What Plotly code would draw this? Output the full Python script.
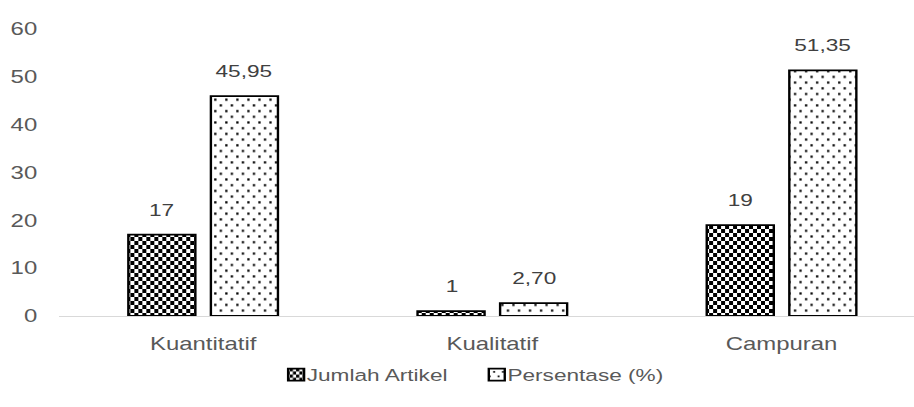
import plotly.graph_objects as go

# Categories and values
categories = ["Kuantitatif", "Kualitatif", "Campuran"]
jumlah_artikel = [17, 1, 19]
persentase = [45.95, 2.70, 51.35]
series_names = ["Jumlah Artikel", "Persentase (%)"]
y_ticks = [0, 10, 20, 30, 40, 50, 60]


def fmt_id(v, decimals):
    """Indonesian number format: comma as decimal separator."""
    return f"{v:.{decimals}f}".replace(".", ",")


# The chart is laid out at a narrower base width and widened on the page
PAGE_W, H = 914, 407
W = 687
STRETCH = PAGE_W / W

M_L, M_R, M_T, M_B = 44, 0, 29, 91
X_RANGE = [-0.5, 2.458]
BARGAP = 0.429
GROUPGAP = 0.188

FONT = "Liberation Sans, Arial, sans-serif"
TICK_COLOR = "#595959"
LABEL_COLOR = "#404040"

fig = go.Figure()

fig.add_trace(go.Bar(
    x=categories, y=jumlah_artikel, name=series_names[0], uid="jumlah",
    marker=dict(color="white", line=dict(color="black", width=1.8),
                pattern=dict(shape="x", size=6, solidity=0.5,
                             fgcolor="black", bgcolor="white")),
))
fig.add_trace(go.Bar(
    x=categories, y=persentase, name=series_names[1], uid="persen",
    marker=dict(color="white", line=dict(color="black", width=1.8),
                pattern=dict(shape=".", size=8, solidity=0.08,
                             fgcolor="black", bgcolor="white")),
))

# Value labels above each bar, offset to the centre of each grouped bar
px_per_cat = (W - M_L - M_R) / (X_RANGE[1] - X_RANGE[0])
slot = px_per_cat * (1 - BARGAP) / 2
annotations = []
for i, cat in enumerate(categories):
    for vals, dec, sign in ((jumlah_artikel, 0, -1), (persentase, 2, 1)):
        annotations.append(dict(
            x=cat, y=vals[i], xref="x", yref="y",
            text=fmt_id(vals[i], dec), showarrow=False,
            xanchor="center", yanchor="bottom",
            xshift=sign * slot / 2, yshift=13,
            font=dict(family=FONT, size=17, color=LABEL_COLOR),
        ))

fig.update_layout(
    width=W, height=H,
    margin=dict(l=M_L, r=M_R, t=M_T, b=M_B),
    paper_bgcolor="white", plot_bgcolor="white",
    barmode="group", bargap=BARGAP, bargroupgap=GROUPGAP,
    font=dict(family=FONT, size=18, color=TICK_COLOR),
    showlegend=True,
    legend=dict(orientation="h", x=0.49, xanchor="center",
                y=-0.2056, yanchor="middle",
                font=dict(family=FONT, size=17, color=TICK_COLOR),
                itemwidth=30, traceorder="normal"),
    annotations=annotations,
    xaxis=dict(type="category", range=X_RANGE, showgrid=False,
               showline=True, linecolor="#d9d9d9", linewidth=1,
               ticks="", ticklabelstandoff=11, zeroline=False,
               tickfont=dict(family=FONT, size=18, color=TICK_COLOR)),
    yaxis=dict(range=[0, 60], tickvals=y_ticks, showgrid=False,
               zeroline=False, showline=False, ticks="",
               ticklabelstandoff=15,
               tickfont=dict(family=FONT, size=18, color=TICK_COLOR)),
)

# Checkerboard and staggered-dot fills, legend text pulled next to its
# swatch, then the chart widened to page width
post = """
var gd = document.getElementById('{plot_id}');
var NS = 'http://www.w3.org/2000/svg';
function mk(tag, attrs) {
  var el = document.createElementNS(NS, tag);
  for (var k in attrs) el.setAttribute(k, attrs[k]);
  return el;
}
function retile(key, w, h, cells) {
  document.querySelectorAll('pattern').forEach(function (p) {
    if (p.id.indexOf(key) === -1) return;
    while (p.firstChild) p.removeChild(p.firstChild);
    p.setAttribute('width', w);
    p.setAttribute('height', h);
    p.appendChild(mk('rect', {x: 0, y: 0, width: w, height: h, fill: 'white'}));
    cells.forEach(function (c) {
      p.appendChild(mk('rect', {x: c[0], y: c[1], width: c[2], height: c[3], fill: 'black'}));
    });
  });
}
retile('jumlah', 6, 8, [[0, 0, 3, 4], [3, 4, 3, 4]]);
retile('persen', 8.3, 11.4, [[0.8, 1.2, 1.7, 2.2], [4.95, 6.9, 1.7, 2.2]]);
gd.querySelectorAll('.legend text.legendtext').forEach(function (t) {
  t.setAttribute('x', 28);
});
document.body.style.margin = '0';
document.body.style.overflow = 'hidden';
gd.style.transformOrigin = '0 0';
gd.style.transform = 'scale(STRETCH, 1)';
""".replace("STRETCH", f"{STRETCH:.5f}")

fig.write_html("out.html", post_script=post)
